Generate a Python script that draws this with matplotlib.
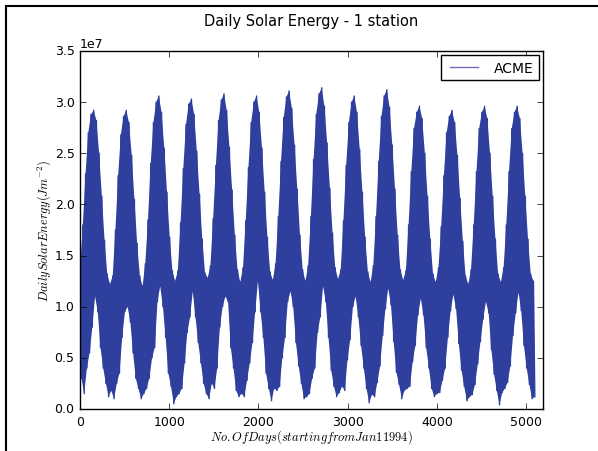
"""Daily solar energy at one station, Jan 1994 onward."""
import matplotlib
matplotlib.use('Agg')
from matplotlib import pyplot as plt
from matplotlib.lines import Line2D
import numpy as np

# monthly upper / lower envelope of the daily series (units of 1e7 J m^-2), Jan..Dec per year
highs = [
    [1.38, 1.80, 2.30, 2.70, 2.88, 2.92, 2.82, 2.50, 2.08, 1.65, 1.32, 1.22],  # 1994
    [1.30, 1.75, 2.28, 2.68, 2.86, 2.92, 2.80, 2.48, 2.05, 1.62, 1.30, 1.20],
    [1.42, 1.85, 2.40, 2.80, 3.00, 3.06, 2.90, 2.55, 2.12, 1.68, 1.35, 1.25],
    [1.35, 1.82, 2.35, 2.78, 2.98, 3.03, 2.88, 2.52, 2.10, 1.66, 1.33, 1.28],
    [1.40, 1.86, 2.38, 2.82, 3.02, 3.08, 2.92, 2.56, 2.14, 1.70, 1.36, 1.24],
    [1.38, 1.84, 2.36, 2.80, 3.00, 3.06, 2.90, 2.55, 2.12, 1.68, 1.34, 1.26],
    [1.42, 1.88, 2.42, 2.85, 3.05, 3.11, 2.94, 2.58, 2.15, 1.70, 1.36, 1.25],
    [1.40, 1.88, 2.44, 2.88, 3.08, 3.14, 2.96, 2.60, 2.16, 1.72, 1.38, 1.27],
    [1.36, 1.84, 2.38, 2.80, 3.00, 3.06, 2.90, 2.54, 2.12, 1.68, 1.34, 1.24],
    [1.40, 1.88, 2.42, 2.86, 3.06, 3.12, 2.95, 2.58, 2.15, 1.70, 1.36, 1.26],
    [1.35, 1.80, 2.32, 2.74, 2.90, 2.96, 2.84, 2.50, 2.08, 1.66, 1.32, 1.24],
    [1.38, 1.78, 2.28, 2.70, 2.86, 2.92, 2.80, 2.48, 2.06, 1.64, 1.30, 1.22],
    [1.36, 1.80, 2.32, 2.74, 2.90, 2.96, 2.84, 2.50, 2.08, 1.66, 1.32, 1.24],
    [1.38, 1.80, 2.32, 2.74, 2.90, 2.96, 2.84, 2.50, 2.08, 1.66, 1.32, 1.25],  # 2007
]
lows = [
    [0.30, 0.15, 0.40, 0.55, 0.80, 1.10, 0.95, 0.60, 0.40, 0.25, 0.12, 0.18],
    [0.10, 0.25, 0.35, 0.70, 0.95, 1.00, 0.85, 0.55, 0.30, 0.20, 0.10, 0.15],
    [0.20, 0.30, 0.50, 0.60, 1.05, 1.20, 1.00, 0.70, 0.35, 0.22, 0.05, 0.12],
    [0.15, 0.20, 0.45, 0.75, 0.90, 1.15, 0.90, 0.65, 0.45, 0.25, 0.15, 0.10],
    [0.25, 0.20, 0.40, 0.80, 1.00, 1.10, 1.05, 0.60, 0.40, 0.18, 0.12, 0.15],
    [0.12, 0.28, 0.45, 0.65, 0.95, 1.25, 0.95, 0.70, 0.35, 0.20, 0.08, 0.20],
    [0.18, 0.22, 0.50, 0.70, 1.05, 1.15, 1.00, 0.65, 0.42, 0.25, 0.10, 0.12],
    [0.15, 0.30, 0.40, 0.75, 0.90, 1.20, 1.05, 0.70, 0.38, 0.22, 0.12, 0.16],
    [0.22, 0.18, 0.48, 0.68, 1.00, 1.10, 0.90, 0.62, 0.40, 0.20, 0.06, 0.14],
    [0.12, 0.26, 0.42, 0.72, 0.98, 1.18, 1.02, 0.66, 0.36, 0.24, 0.10, 0.18],
    [0.20, 0.22, 0.46, 0.62, 0.92, 1.08, 0.92, 0.60, 0.40, 0.20, 0.12, 0.15],
    [0.16, 0.28, 0.40, 0.70, 0.96, 1.12, 0.98, 0.64, 0.38, 0.22, 0.08, 0.12],
    [0.14, 0.24, 0.44, 0.66, 0.88, 1.05, 0.94, 0.58, 0.34, 0.18, 0.04, 0.16],
    [0.20, 0.26, 0.42, 0.72, 0.94, 1.14, 0.96, 0.62, 0.40, 0.24, 0.10, 0.12],
]
series_name = 'ACME'
days_per_month = 365.25 / 12
line_color = '#2e3f9e'

plt.style.use('classic')
plt.rcParams.update({
    'figure.facecolor': 'white',
    'savefig.facecolor': 'white',
    'font.size': 9,
    'legend.fontsize': 10,
    'axes.titlesize': 10.5,
})

hi = np.array(highs).ravel() * 1e7
lo = np.array(lows).ravel() * 1e7
n = hi.size
t_hi = np.arange(n) * days_per_month
t_lo = t_hi + days_per_month / 2
# zigzag between the high and low of each month
day = np.empty(2 * n)
energy = np.empty(2 * n)
day[0::2] = t_hi
day[1::2] = t_lo
energy[0::2] = hi
energy[1::2] = lo

fig = plt.figure(figsize=(5.98, 4.52), dpi=100)
ax = fig.add_axes([0.134, 0.093, 0.774, 0.792])
ax.fill(np.r_[t_hi, t_lo[::-1]], np.r_[hi, lo[::-1]], color=line_color, lw=0)
ax.plot(day, energy, '-', color=line_color, lw=1.0, label=series_name)
ax.set_xlim(0, 5190)
ax.set_ylim(0, 3.5e7)
ax.set_xticks([0, 1000, 2000, 3000, 4000, 5000])
ax.set_yticks(np.arange(0, 3.51e7, 0.5e7))
ax.ticklabel_format(axis='y', style='sci', scilimits=(0, 0))
ax.set_title('Daily Solar Energy - 1 station', pad=19)
ax.set_xlabel(r'$No. Of Days (starting from Jan 1 1994)$', labelpad=0)
ax.set_ylabel(r'$Daily Solar Energy (Jm^{-2})$', labelpad=1)
leg = ax.legend(loc='upper right', borderaxespad=0.3, handlelength=2.6)
leg.get_lines()[0].set_color('#7566c4')

# frame lines around the figure
fig.add_artist(Line2D([0.01, 1.0], [0.985, 0.985], color='k', lw=1.5, transform=fig.transFigure))
fig.add_artist(Line2D([0.01, 0.01], [0.0, 0.985], color='k', lw=1.5, transform=fig.transFigure))

plt.savefig('out.png', dpi=100)
plt.close()
